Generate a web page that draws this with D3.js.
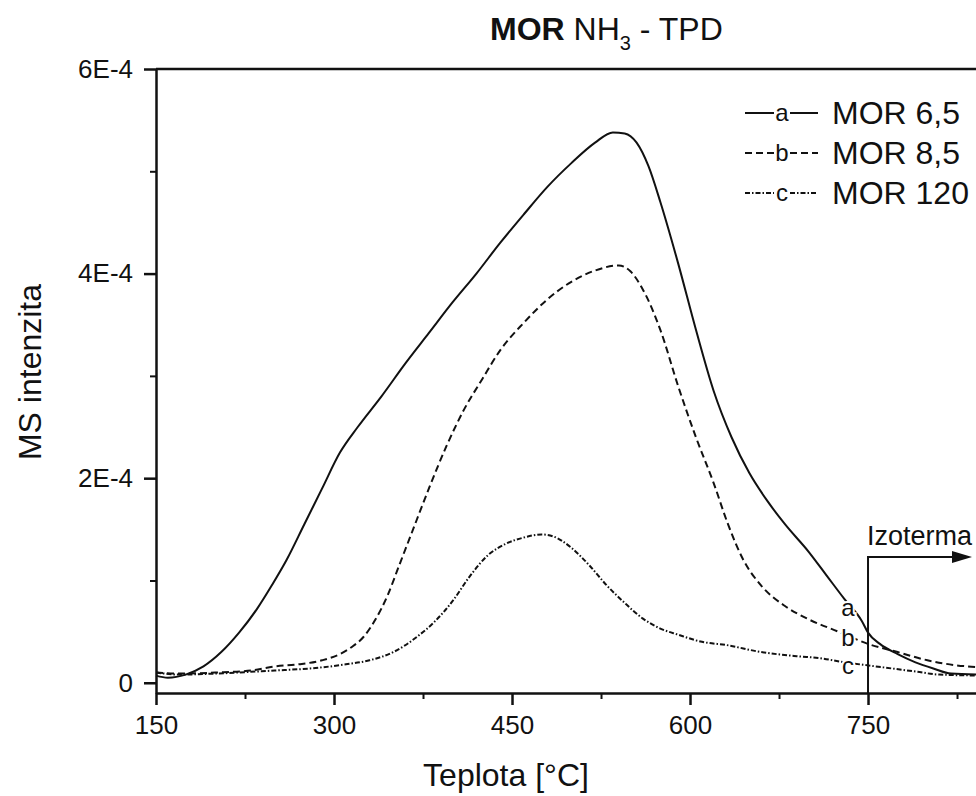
<!DOCTYPE html>
<html>
<head>
<meta charset="utf-8">
<script src="https://cdn.jsdelivr.net/npm/d3@7"></script>
<style>
  body { margin: 0; background: #fff; }
  svg { display: block; font-family: Arial, "Liberation Sans", sans-serif; }
  .axis path, .axis line { stroke: #111; }
  .axis text { fill: #111; }
</style>
</head>
<body>
<div id="chart"></div>
<script>
// values are MS intensity in units of 1E-4
const tempA = [150, 160, 175, 190, 205, 220, 235, 248, 260, 275, 290, 305, 320, 340, 360, 380, 400, 420, 440, 460, 480, 500, 520, 535, 545, 555, 565, 575, 590, 605, 620, 635, 650, 665, 680, 700, 715, 730, 745, 750, 760, 775, 790, 805, 820, 850];
const mor65 = [0.07, 0.05, 0.08, 0.16, 0.3, 0.49, 0.72, 0.96, 1.2, 1.55, 1.9, 2.25, 2.5, 2.8, 3.12, 3.42, 3.72, 4.0, 4.3, 4.58, 4.85, 5.08, 5.28, 5.38, 5.37, 5.28, 5.05, 4.7, 4.1, 3.45, 2.85, 2.4, 2.05, 1.78, 1.55, 1.28, 1.05, 0.82, 0.6, 0.49, 0.38, 0.28, 0.2, 0.14, 0.09, 0.08];

const tempB = [150, 170, 200, 230, 250, 270, 290, 305, 315, 325, 335, 345, 355, 365, 380, 395, 410, 425, 440, 460, 480, 500, 520, 540, 550, 560, 575, 590, 605, 620, 632, 645, 660, 680, 700, 725, 750, 775, 800, 825, 850];
const mor85 = [0.1, 0.09, 0.1, 0.12, 0.16, 0.18, 0.22, 0.28, 0.35, 0.45, 0.62, 0.85, 1.15, 1.45, 1.9, 2.32, 2.68, 2.97, 3.25, 3.52, 3.75, 3.92, 4.03, 4.08, 4.02, 3.85, 3.45, 2.9, 2.4, 1.95, 1.55, 1.2, 0.95, 0.75, 0.62, 0.5, 0.38, 0.3, 0.22, 0.17, 0.15];

const tempC = [150, 170, 200, 250, 280, 310, 330, 350, 370, 385, 400, 415, 430, 445, 460, 475, 485, 500, 515, 530, 545, 560, 575, 590, 610, 630, 660, 690, 710, 730, 750, 770, 790, 810, 850];
const mor120 = [0.1, 0.08, 0.09, 0.12, 0.14, 0.18, 0.22, 0.3, 0.45, 0.6, 0.8, 1.05, 1.25, 1.36, 1.42, 1.45, 1.43, 1.32, 1.15, 0.95, 0.78, 0.63, 0.53, 0.47, 0.4, 0.37, 0.3, 0.26, 0.24, 0.2, 0.17, 0.14, 0.11, 0.08, 0.07];

const seriesNames = ["MOR 6,5", "MOR 8,5", "MOR 120"];
const seriesTags = ["a", "b", "c"];
const xTicks = [150, 300, 450, 600, 750];
const xMinorTicks = [225, 375, 525, 675, 825];
const yTicks = [0, 2, 4, 6];
const yMinorTicks = [1, 3, 5];
const isothermTemp = 750;

const width = 976;
const height = 796;
const margin = { top: 69, left: 156, bottom: 103 };

const dashes = [null, "7,4", "5,2,1.5,2"];

const x = d3.scaleLinear().domain([150, 850]).range([margin.left, margin.left + 700 * 1.1867]);
const y = d3.scaleLinear().domain([-0.1, 6]).range([height - margin.bottom, margin.top]);

const series = [
  { name: seriesNames[0], tag: seriesTags[0], values: tempA.map((t, i) => [t, mor65[i]]) },
  { name: seriesNames[1], tag: seriesTags[1], values: tempB.map((t, i) => [t, mor85[i]]) },
  { name: seriesNames[2], tag: seriesTags[2], values: tempC.map((t, i) => [t, mor120[i]]) },
];

const svg = d3
  .select("#chart")
  .append("svg")
  .attr("width", width)
  .attr("height", height)
  .attr("viewBox", [0, 0, width, height]);

// title
const title = svg
  .append("text")
  .attr("x", 490)
  .attr("y", 40)
  .attr("font-size", 32)
  .attr("fill", "#111");
title.append("tspan").attr("font-weight", "bold").text("MOR");
title.append("tspan").text(" NH");
title.append("tspan").attr("font-size", 20).attr("dy", 10).text("3");
title.append("tspan").attr("dy", -10).text(" - TPD");

// curves
const line = d3
  .line()
  .x((d) => x(d[0]))
  .y((d) => y(d[1]))
  .curve(d3.curveMonotoneX);

svg
  .append("g")
  .selectAll("path")
  .data(series)
  .join("path")
  .attr("fill", "none")
  .attr("stroke", "#111")
  .attr("stroke-width", 2)
  .attr("stroke-dasharray", (d, i) => dashes[i])
  .attr("d", (d) => line(d.values));

// isotherm marker
const yIso = 557;
svg
  .append("path")
  .attr("fill", "none")
  .attr("stroke", "#111")
  .attr("stroke-width", 2)
  .attr("d", `M${x(isothermTemp)},${y.range()[0]}V${yIso}H${x(isothermTemp) + 88}`);
svg
  .append("path")
  .attr("fill", "#111")
  .attr("d", `M${x(isothermTemp) + 104},${yIso}l-20,-6v12z`);
svg
  .append("text")
  .attr("x", x(isothermTemp) - 1)
  .attr("y", 545)
  .attr("font-size", 27)
  .attr("fill", "#111")
  .text("Izoterma");

// curve tags
const tagY = [616, 646, 674];
svg
  .append("g")
  .selectAll("text")
  .data(seriesTags)
  .join("text")
  .attr("x", 848)
  .attr("y", (d, i) => tagY[i])
  .attr("text-anchor", "middle")
  .attr("font-size", 24)
  .attr("fill", "#111")
  .attr("stroke", "#fff")
  .attr("stroke-width", 4)
  .attr("paint-order", "stroke")
  .text((d) => d);

// axes
svg
  .append("g")
  .attr("class", "axis")
  .attr("transform", `translate(0,${y.range()[0]})`)
  .call(
    d3
      .axisBottom(x)
      .tickValues(xTicks)
      .tickSizeInner(12)
      .tickSizeOuter(0)
      .tickPadding(11)
  )
  .call((g) => g.select(".domain").attr("stroke-width", 2.5))
  .call((g) => g.selectAll(".tick line").attr("stroke-width", 2.5))
  .call((g) => g.selectAll(".tick text").attr("font-size", 26).attr("font-family", null));

svg
  .append("g")
  .attr("class", "axis")
  .attr("transform", `translate(0,${y.range()[0]})`)
  .call(d3.axisBottom(x).tickValues(xMinorTicks).tickSize(6).tickFormat(""))
  .call((g) => g.select(".domain").remove())
  .call((g) => g.selectAll(".tick line").attr("stroke-width", 2));

svg
  .append("g")
  .attr("class", "axis")
  .attr("transform", `translate(${margin.left},0)`)
  .call(
    d3
      .axisLeft(y)
      .tickValues(yTicks)
      .tickSizeInner(12)
      .tickSizeOuter(0)
      .tickPadding(11)
      .tickFormat((d) => (d === 0 ? "0" : `${d}E-4`))
  )
  .call((g) => g.select(".domain").attr("stroke-width", 2.5))
  .call((g) => g.selectAll(".tick line").attr("stroke-width", 2.5))
  .call((g) => g.selectAll(".tick text").attr("font-size", 26).attr("font-family", null));

svg
  .append("g")
  .attr("class", "axis")
  .attr("transform", `translate(${margin.left},0)`)
  .call(d3.axisLeft(y).tickValues(yMinorTicks).tickSize(6).tickFormat(""))
  .call((g) => g.select(".domain").remove())
  .call((g) => g.selectAll(".tick line").attr("stroke-width", 2));

// top frame line
svg
  .append("line")
  .attr("x1", margin.left)
  .attr("x2", width)
  .attr("y1", margin.top)
  .attr("y2", margin.top)
  .attr("stroke", "#111")
  .attr("stroke-width", 2.5);

// axis titles
svg
  .append("text")
  .attr("x", (margin.left + width) / 2 - 60)
  .attr("y", 786)
  .attr("text-anchor", "middle")
  .attr("font-size", 32)
  .attr("fill", "#111")
  .text("Teplota [°C]");

svg
  .append("text")
  .attr("transform", `translate(41,372) rotate(-90)`)
  .attr("text-anchor", "middle")
  .attr("font-size", 32)
  .attr("fill", "#111")
  .text("MS intenzita");

// legend
const legend = svg
  .append("g")
  .selectAll("g")
  .data(series)
  .join("g")
  .attr("transform", (d, i) => `translate(745,${113 + i * 40})`);

legend
  .selectAll("line")
  .data((d, i) => [
    [0, 29, i],
    [45, 73, i],
  ])
  .join("line")
  .attr("x1", (d) => d[0])
  .attr("x2", (d) => d[1])
  .attr("stroke", "#111")
  .attr("stroke-width", 2)
  .attr("stroke-dasharray", (d) => dashes[d[2]]);

legend
  .append("text")
  .attr("x", 37)
  .attr("y", 8)
  .attr("text-anchor", "middle")
  .attr("font-size", 24)
  .attr("fill", "#111")
  .text((d) => d.tag);

legend
  .append("text")
  .attr("x", 87)
  .attr("y", 11)
  .attr("font-size", 32)
  .attr("fill", "#111")
  .text((d) => d.name);
</script>
</body>
</html>
